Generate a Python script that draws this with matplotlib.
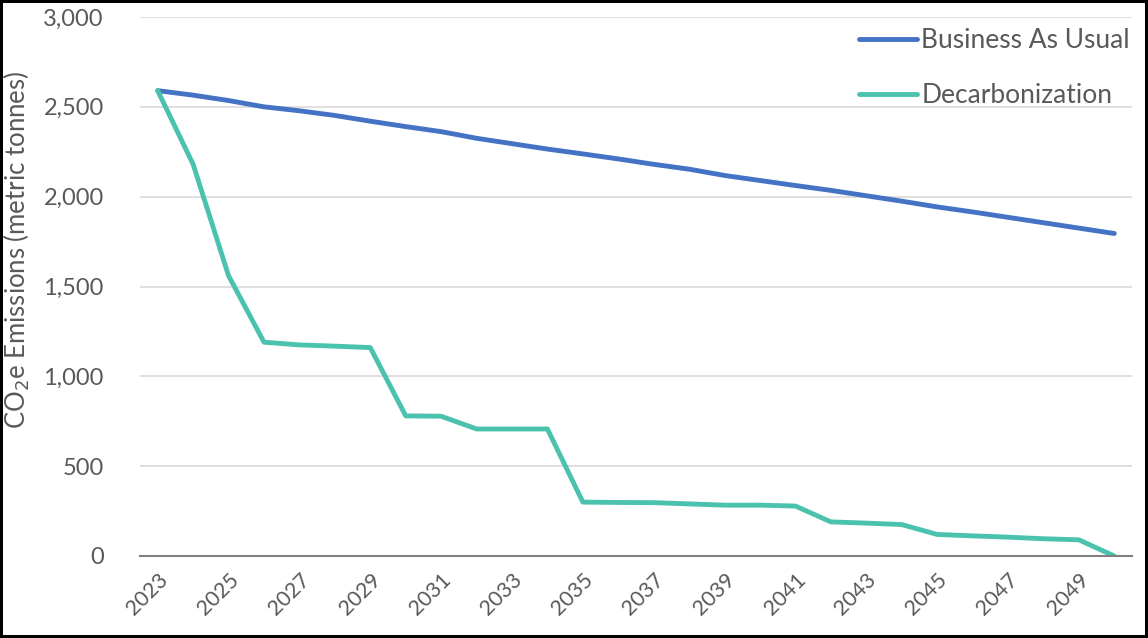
import matplotlib.pyplot as plt
from matplotlib.ticker import FuncFormatter

# Данные графика
years = list(range(2023, 2051))
business_as_usual = [2590, 2565, 2535, 2500, 2478, 2452, 2420, 2390, 2362, 2325,
                     2295, 2265, 2238, 2210, 2180, 2153, 2118, 2090, 2062, 2035,
                     2005, 1975, 1943, 1915, 1885, 1855, 1825, 1795]
decarbonization = [2590, 2180, 1560, 1190, 1175, 1168, 1160, 780, 778, 707,
                   707, 707, 300, 298, 297, 290, 283, 283, 278, 190,
                   183, 175, 120, 112, 105, 96, 90, 0]
tick_years = list(range(2023, 2050, 2))

text_color = '#595959'
plt.rcParams['font.family'] = ['Lato', 'DejaVu Sans']

fig = plt.figure(figsize=(11.48, 6.38), dpi=100)
fig.patch.set_edgecolor('black')
fig.patch.set_linewidth(3)
ax = fig.add_axes([140 / 1148, 1 - 556 / 638, (1132 - 140) / 1148, (556 - 17) / 638])

ax.plot(years, business_as_usual, color='#4472C4', linewidth=3.5, label='Business As Usual',
        solid_capstyle='round', zorder=3)
ax.plot(years, decarbonization, color='#4BC2AD', linewidth=3.5, label='Decarbonization',
        solid_capstyle='round', zorder=3)

ax.set_xlim(2022.5, 2050.5)
ax.set_ylim(0, 3000)
ax.set_yticks(range(0, 3001, 500))
ax.yaxis.set_major_formatter(FuncFormatter(lambda v, p: f'{int(v):,}'))
ax.set_xticks(tick_years)
ax.set_xticklabels([str(y) for y in tick_years], rotation=45, ha='right',
                   rotation_mode='anchor', fontsize=15.5, color=text_color)
ax.tick_params(axis='y', labelsize=17, colors=text_color, length=0, pad=26)
ax.tick_params(axis='x', length=0, pad=10)

ax.grid(axis='y', color='#D9D9D9', linewidth=1.2)
ax.set_axisbelow(True)
for side in ['top', 'right', 'left']:
    ax.spines[side].set_visible(False)
ax.spines['bottom'].set_color('#7F7F7F')
ax.spines['bottom'].set_linewidth(1.5)
ax.spines['bottom'].set_zorder(4)

ax.set_ylabel('CO$_2$e Emissions (metric tonnes)', fontsize=18.5, color=text_color)
ax.yaxis.set_label_coords(-0.109, 0.568)

ax.legend(loc='upper right', bbox_to_anchor=(1130 / 1148, 1 - 28 / 638),
          bbox_transform=fig.transFigure, frameon=False, fontsize=19,
          borderpad=0, borderaxespad=0, handlelength=2.2, handletextpad=0.15,
          labelspacing=1.15, labelcolor=text_color)

fig.savefig('out.png', dpi=100, edgecolor=fig.get_edgecolor())
